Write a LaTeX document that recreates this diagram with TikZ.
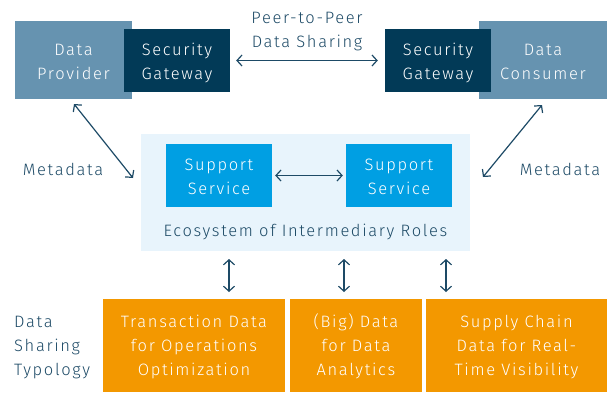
\documentclass[tikz,border=0pt]{standalone}
\usepackage{fontspec}
\setmainfont{Fira Sans}[UprightFont=* Light, LetterSpace=10]
\usetikzlibrary{arrows.meta}
\definecolor{provblue}{HTML}{6693B0}
\definecolor{navy}{HTML}{023A57}
\definecolor{suppblue}{HTML}{009FE3}
\definecolor{ecobg}{HTML}{E8F4FC}
\definecolor{orng}{HTML}{F39800}
\definecolor{ink}{HTML}{1D4A66}
\tikzset{
  box/.style={draw=none, align=center, inner sep=0pt, text=white, font=\fontsize{16.5}{24}\selectfont},
  lbl/.style={align=center, inner sep=0pt, text=ink, font=\fontsize{16.5}{24}\selectfont},
  twoline/.style={text height=38pt, text depth=0pt},
  threeline/.style={text height=59pt, text depth=0pt},
  conn/.style={draw=ink, line width=1.2pt, {Straight Barb[length=5pt,width=11pt]}-{Straight Barb[length=5pt,width=11pt]}},
}
\begin{document}
\begin{tikzpicture}[x=1pt,y=-1pt]
\useasboundingbox (0,0) rectangle (607,392);
% top row
\node[box, twoline, fill=provblue, minimum width=117pt, minimum height=78pt] (prov) at (73.5,60) {Data\\Provider};
\node[box, twoline, fill=navy, minimum width=106pt, minimum height=63pt] (sgl) at (177,60.5) {Security\\Gateway};
\node[box, twoline, fill=provblue, minimum width=128pt, minimum height=78pt] (cons) at (543,60) {Data\\Consumer};
\node[box, twoline, fill=navy, minimum width=106pt, minimum height=63pt] (sgr) at (438,60.5) {Security\\Gateway};
\node[lbl, twoline] (p2p) at (307,28) {Peer-to-Peer\\Data Sharing};
\draw[conn, shorten <=6pt, shorten >=7pt] (sgl.east) -- (sgr.west);
% ecosystem
\node[fill=ecobg, minimum width=329pt, minimum height=117pt, inner sep=0pt] (eco) at (305.5,192.5) {};
\node[box, twoline, fill=suppblue, minimum width=106pt, minimum height=63pt] (ss1) at (219,175.5) {Support\\Service};
\node[box, twoline, fill=suppblue, minimum width=106pt, minimum height=63pt] (ss2) at (399,175.5) {Support\\Service};
\node[lbl] (ecot) at (305.5,232) {Ecosystem of Intermediary Roles};
\draw[conn, shorten <=3pt, shorten >=3pt] (ss1.east) -- (ss2.west);
% metadata
\node[lbl] (md1) at (63,169) {Metadata};
\node[lbl] (md2) at (560,169) {Metadata};
\coordinate (a1) at (74,104);
\coordinate (a2) at (133,178);
\coordinate (b1) at (542,105);
\coordinate (b2) at (483,177);
\draw[conn] (a1) -- (a2);
\draw[conn] (b1) -- (b2);
% typology
\node[box, threeline, fill=orng, minimum width=182pt, minimum height=93pt] (t1) at (194,345.5) {Transaction Data\\for Operations\\Optimization};
\node[box, threeline, fill=orng, minimum width=132pt, minimum height=93pt] (t2) at (356,345.5) {(Big) Data\\for Data\\Analytics};
\node[box, threeline, fill=orng, minimum width=181pt, minimum height=93pt] (t3) at (516.5,345.5) {Supply Chain\\Data for Real-\\Time Visibility};
\node[lbl, threeline, align=left, anchor=west] (dst) at (14,345.5) {Data\\Sharing\\Typology};
\coordinate (v1a) at (229,259); \coordinate (v1b) at (229,292);
\coordinate (v2a) at (344,259); \coordinate (v2b) at (344,292);
\coordinate (v3a) at (446,259); \coordinate (v3b) at (446,292);
\draw[conn] (v1a) -- (v1b);
\draw[conn] (v2a) -- (v2b);
\draw[conn] (v3a) -- (v3b);
\end{tikzpicture}
\end{document}
